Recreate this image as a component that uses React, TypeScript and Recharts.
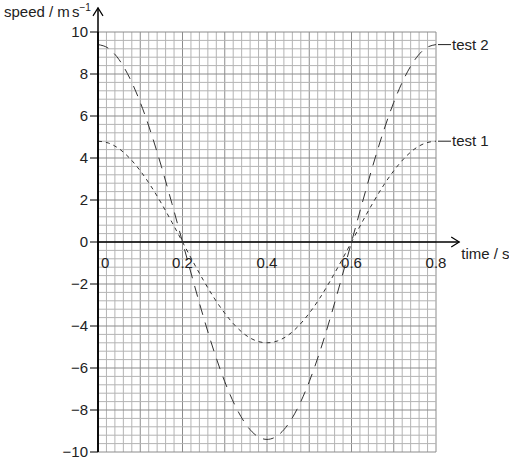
import {
  LineChart,
  Line,
  XAxis,
  YAxis,
  ReferenceLine,
  ReferenceDot,
} from "recharts";

// time in s
const times = [
  0, 0.025, 0.05, 0.075, 0.1, 0.125, 0.15, 0.175, 0.2, 0.225, 0.25, 0.275, 0.3,
  0.325, 0.35, 0.375, 0.4, 0.425, 0.45, 0.475, 0.5, 0.525, 0.55, 0.575, 0.6,
  0.625, 0.65, 0.675, 0.7, 0.725, 0.75, 0.775, 0.8,
];

// speed / m s^-1
const test1 = [
  4.8, 4.71, 4.44, 3.99, 3.39, 2.67, 1.84, 0.94, 0, -0.94, -1.84, -2.67, -3.39,
  -3.99, -4.44, -4.71, -4.8, -4.71, -4.44, -3.99, -3.39, -2.67, -1.84, -0.94, 0,
  0.94, 1.84, 2.67, 3.39, 3.99, 4.44, 4.71, 4.8,
];
const test2 = [
  9.4, 9.22, 8.68, 7.81, 6.65, 5.23, 3.6, 1.83, 0, -1.83, -3.6, -5.23, -6.65,
  -7.81, -8.68, -9.22, -9.4, -9.22, -8.68, -7.81, -6.65, -5.23, -3.6, -1.83, 0,
  1.83, 3.6, 5.23, 6.65, 7.81, 8.68, 9.22, 9.4,
];

const yTicks = [-10, -8, -6, -4, -2, 0, 2, 4, 6, 8, 10];
const xLabels = [0, 0.2, 0.4, 0.6, 0.8];
const seriesLabels = [
  { name: "test 2", y: 9.4 },
  { name: "test 1", y: 4.8 },
];

// graph paper: 0.02 s across, 0.4 m/s up, heavier every 5th line
const gridX = Array.from({ length: 41 }, (_, i) => +(i * 0.02).toFixed(2));
const gridY = Array.from({ length: 51 }, (_, i) => +(-10 + i * 0.4).toFixed(1));

const data = times.map((t, i) => ({ t, test1: test1[i], test2: test2[i] }));

const FONT = "'Liberation Sans', Arial, sans-serif";
const minus = (v: number) => String(v).replace("-", "\u2212");

function Arrow(props: any) {
  const { x1, y1, x2, y2 } = props;
  const horiz = y1 === y2;
  const head = horiz
    ? `M${x2 - 8},${y2 - 5} L${x2},${y2} L${x2 - 8},${y2 + 5}`
    : `M${x2 - 5},${y2 + 8} L${x2},${y2} L${x2 + 5},${y2 + 8}`;
  return (
    <g>
      <line x1={x1} y1={y1} x2={x2} y2={y2} stroke="#000" strokeWidth={1.5} />
      <path d={head} fill="none" stroke="#000" strokeWidth={1.2} />
    </g>
  );
}

export default function App() {
  return (
    <div style={{ position: "fixed", left: 0, top: 0, width: 509, height: 469, background: "#fff" }}>
      <div
        style={{
          position: "absolute",
          left: 4,
          top: 2,
          fontFamily: FONT,
          fontSize: 15,
          color: "#222",
          whiteSpace: "nowrap",
        }}
      >
        speed / m<span style={{ marginLeft: 2 }}>s</span>
        <sup style={{ fontSize: 10 }}>−1</sup>
      </div>
      <LineChart
        width={509}
        height={469}
        data={data}
        margin={{ top: 32, right: 73, bottom: 17, left: 0 }}
      >
        <XAxis dataKey="t" type="number" domain={[0, 0.8]} hide />
        <YAxis
          type="number"
          domain={[-10, 10]}
          ticks={yTicks}
          width={98}
          axisLine={{ stroke: "#000", strokeWidth: 1.5 }}
          tickLine={{ stroke: "#000" }}
          tickSize={8}
          tick={{ fill: "#222", fontSize: 15, fontFamily: FONT }}
          tickFormatter={minus}
        />
        {gridX.map((v, i) => (
          <ReferenceLine
            key={"gx" + i}
            x={v}
            stroke={i % 5 === 0 ? "#8c8c8c" : "#b4b4b4"}
            strokeWidth={1}
          />
        ))}
        {gridY.map((v, i) => (
          <ReferenceLine
            key={"gy" + i}
            y={v}
            stroke={i % 5 === 0 ? "#8c8c8c" : "#b4b4b4"}
            strokeWidth={1}
          />
        ))}
        <ReferenceLine
          segment={[
            { x: 0, y: 0 },
            { x: 0.855, y: 0 },
          ]}
          ifOverflow="visible"
          shape={<Arrow />}
        />
        <ReferenceLine
          segment={[
            { x: 0, y: -10 },
            { x: 0, y: 11.15 },
          ]}
          ifOverflow="visible"
          shape={<Arrow />}
        />
        <Line
          dataKey="test2"
          type="monotone"
          stroke="#333"
          strokeWidth={1}
          strokeDasharray="11 8"
          dot={false}
          isAnimationActive={false}
        />
        <Line
          dataKey="test1"
          type="monotone"
          stroke="#333"
          strokeWidth={1}
          strokeDasharray="4 4"
          dot={false}
          isAnimationActive={false}
        />
        {xLabels.map((v) => (
          <ReferenceDot
            key={v}
            x={v}
            y={0}
            ifOverflow="visible"
            shape={(p: any) => (
              <text
                x={v === 0 ? p.cx + 3 : p.cx}
                y={p.cy + 26}
                textAnchor={v === 0 ? "start" : "middle"}
                fontSize={15}
                fontFamily={FONT}
                fill="#222"
              >
                {v}
              </text>
            )}
          />
        ))}
        <ReferenceDot
          x={0.855}
          y={0}
          ifOverflow="visible"
          shape={(p: any) => (
            <text x={p.cx + 2} y={p.cy + 17} fontSize={15} fontFamily={FONT} fill="#222">
              time / s
            </text>
          )}
        />
        {seriesLabels.map((s) => (
          <ReferenceDot
            key={s.name}
            x={0.8}
            y={s.y}
            ifOverflow="visible"
            shape={(p: any) => (
              <g>
                <line x1={p.cx + 2} y1={p.cy} x2={p.cx + 15} y2={p.cy} stroke="#222" />
                <text x={p.cx + 16} y={p.cy + 5} fontSize={15} fontFamily={FONT} fill="#222">
                  {s.name}
                </text>
              </g>
            )}
          />
        ))}
      </LineChart>
    </div>
  );
}
